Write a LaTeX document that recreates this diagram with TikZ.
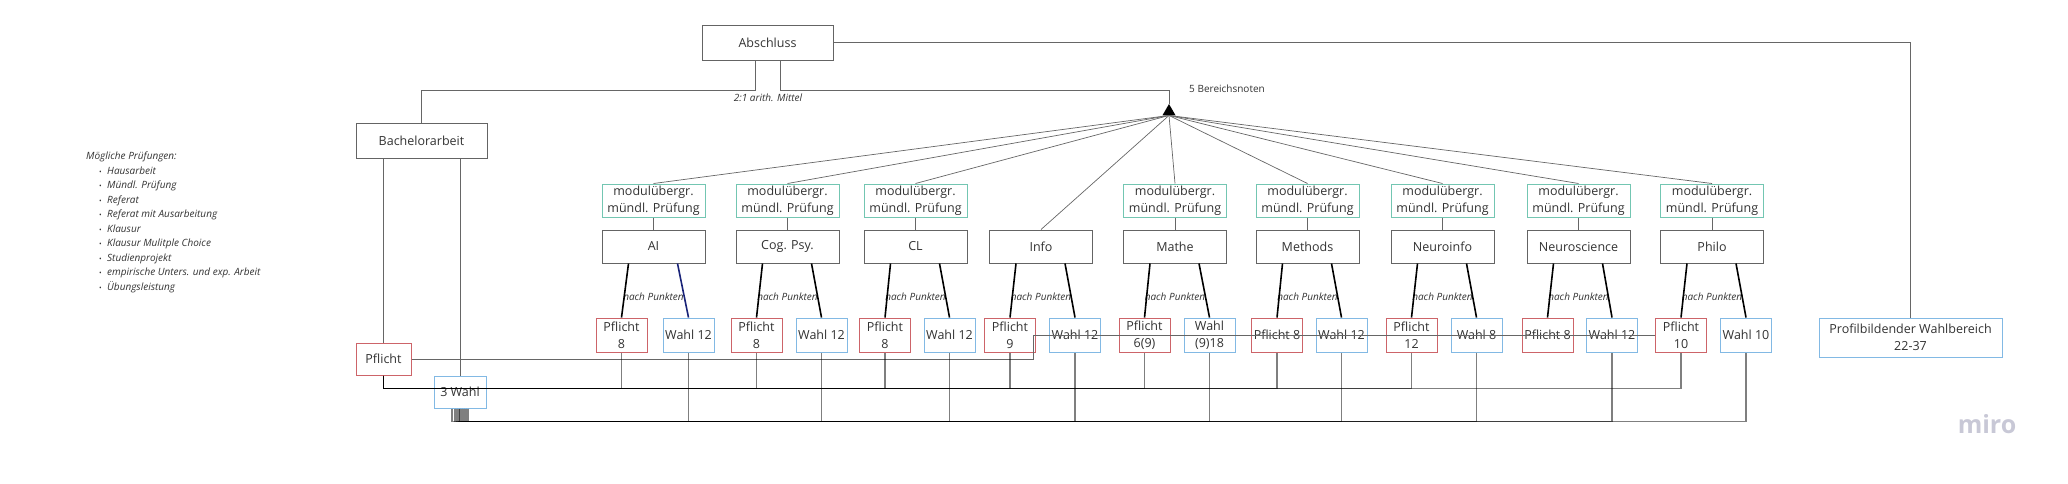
\documentclass[tikz,border=0pt]{standalone}
\usepackage{fontspec}
\setmainfont{Open Sans}
\usepackage{tikz}
\usetikzlibrary{shapes.geometric}
\definecolor{rahmen}{RGB}{100,100,100}
\definecolor{gruen}{RGB}{115,198,178}
\definecolor{rot}{RGB}{205,100,105}
\definecolor{blau}{RGB}{130,185,228}
\definecolor{navy}{RGB}{25,35,120}
\definecolor{schrift}{RGB}{50,50,50}
\definecolor{logo}{RGB}{200,200,214}
\tikzstyle{box} = [draw, line width=1pt, text=schrift, font={\fontsize{12.5}{16.7}\selectfont}, align=center, inner sep=1pt]
\tikzstyle{modul} = [box, draw=rahmen, minimum width=103pt, minimum height=33pt]
\tikzstyle{pruefung} = [box, draw=gruen, minimum width=103pt, minimum height=33pt]
\tikzstyle{pflicht} = [box, draw=rot, minimum width=51pt, minimum height=34pt]
\tikzstyle{wahl} = [box, draw=blau, minimum width=51pt, minimum height=34pt]
\tikzstyle{conn} = [draw=black!60, line width=0.7pt]
\tikzstyle{dick} = [draw=black, line width=1.6pt]
\tikzstyle{bus} = [draw=black, line width=1.3pt, draw opacity=0.5]
\tikzstyle{klein} = [text=schrift, font={\itshape\fontsize{10}{12}\selectfont}, inner sep=0pt]
\newcommand{\punkt}[1]{\hspace*{13pt}\makebox[8pt][l]{\upshape\fontsize{7}{7}\selectfont\textbullet}#1}

\begin{document}
\begin{tikzpicture}[x=1pt,y=-1pt]
        \useasboundingbox (0,0) rectangle (2068,483);
        % oben
        \node[modul, minimum width=131pt, minimum height=35pt] (ab) at (767.5,42.5) {Abschluss};
        \node[modul, minimum width=131pt, minimum height=35pt] (ba) at (421.5,140.5) {Bachelorarbeit};
        \node[regular polygon, regular polygon sides=3, fill=black, inner sep=0pt, minimum size=15pt] (dreieck) at (1169,111.5) {};
        \node[klein] (mittel) at (768,98) {2:1 arith. Mittel};
        \node[klein, font={\fontsize{10}{12}\selectfont}] (noten) at (1227,89) {5 Bereichsnoten};
        \node[klein, anchor=north west, align=left, font={\itshape\fontsize{10}{14.5}\selectfont}] (legende) at (86,152) {M\"ogliche Pr\"ufungen:\\\punkt{Hausarbeit}\\\punkt{M\"undl. Pr\"ufung}\\\punkt{Referat}\\\punkt{Referat mit Ausarbeitung}\\\punkt{Klausur}\\\punkt{Klausur Mulitple Choice}\\\punkt{Studienprojekt}\\\punkt{empirische Unters. und exp. Arbeit}\\\punkt{\"Ubungsleistung}};
        \node[wahl, minimum width=183pt, minimum height=39pt] (prof) at (1910.5,337.5) {Profilbildender Wahlbereich\\22-37};
        \node[pflicht, minimum width=55pt, minimum height=32pt] (pfl) at (383.5,359) {Pflicht};
        \node[wahl, minimum width=52pt, minimum height=32pt] (w3) at (460,392) {3 Wahl};
        % module
        \node[pruefung] (ai-g) at (653.5,200.5) {modul\"ubergr.\\m\"undl. Pr\"ufung};
        \node[modul] (ai) at (653.5,246.5) {AI};
        \node[pflicht] (ai-p) at (621.5,335) {Pflicht\\8};
        \node[wahl] (ai-w) at (688.5,335) {Wahl 12};
        \node[klein] (ai-n) at (653.5,297) {nach Punkten};
        \node[pruefung] (cog-g) at (787.5,200.5) {modul\"ubergr.\\m\"undl. Pr\"ufung};
        \node[modul] (cog) at (787.5,246.5) {Cog. Psy.};
        \node[pflicht] (cog-p) at (756.5,335) {Pflicht\\8};
        \node[wahl] (cog-w) at (821.5,335) {Wahl 12};
        \node[klein] (cog-n) at (787.5,297) {nach Punkten};
        \node[pruefung] (cl-g) at (915.5,200.5) {modul\"ubergr.\\m\"undl. Pr\"ufung};
        \node[modul] (cl) at (915.5,246.5) {CL};
        \node[pflicht] (cl-p) at (885,335) {Pflicht\\8};
        \node[wahl] (cl-w) at (949.5,335) {Wahl 12};
        \node[klein] (cl-n) at (915.5,297) {nach Punkten};
        \node[modul] (info) at (1041,246.5) {Info};
        \node[pflicht] (info-p) at (1010,335) {Pflicht\\9};
        \node[wahl] (info-w) at (1075,335) {Wahl 12};
        \node[klein] (info-n) at (1041,297) {nach Punkten};
        \node[pruefung] (ma-g) at (1175,200.5) {modul\"ubergr.\\m\"undl. Pr\"ufung};
        \node[modul] (ma) at (1175,246.5) {Mathe};
        \node[pflicht] (ma-p) at (1144.5,335) {Pflicht\\6(9)};
        \node[wahl] (ma-w) at (1209.5,335) {Wahl\\(9)18};
        \node[klein] (ma-n) at (1175,297) {nach Punkten};
        \node[pruefung] (me-g) at (1307.5,200.5) {modul\"ubergr.\\m\"undl. Pr\"ufung};
        \node[modul] (me) at (1307.5,246.5) {Methods};
        \node[pflicht] (me-p) at (1277,335) {Pflicht 8};
        \node[wahl] (me-w) at (1341.5,335) {Wahl 12};
        \node[klein] (me-n) at (1307.5,297) {nach Punkten};
        \node[pruefung] (ni-g) at (1442.5,200.5) {modul\"ubergr.\\m\"undl. Pr\"ufung};
        \node[modul] (ni) at (1442.5,246.5) {Neuroinfo};
        \node[pflicht] (ni-p) at (1411.5,335) {Pflicht\\12};
        \node[wahl] (ni-w) at (1476.5,335) {Wahl 8};
        \node[klein] (ni-n) at (1442.5,297) {nach Punkten};
        \node[pruefung] (ns-g) at (1578.5,200.5) {modul\"ubergr.\\m\"undl. Pr\"ufung};
        \node[modul] (ns) at (1578.5,246.5) {Neuroscience};
        \node[pflicht] (ns-p) at (1547.5,335) {Pflicht 8};
        \node[wahl] (ns-w) at (1612,335) {Wahl 12};
        \node[klein] (ns-n) at (1578.5,297) {nach Punkten};
        \node[pruefung] (ph-g) at (1712,200.5) {modul\"ubergr.\\m\"undl. Pr\"ufung};
        \node[modul] (ph) at (1712,246.5) {Philo};
        \node[pflicht] (ph-p) at (1681,335) {Pflicht\\10};
        \node[wahl] (ph-w) at (1746,335) {Wahl 10};
        \node[klein] (ph-n) at (1712,297) {nach Punkten};
        \node[font={\bfseries\fontsize{25}{25}\selectfont}, text=logo] (miro) at (1987,424) {miro};
        \coordinate (knick) at (1033,359);
        % verbindungen oben
        \draw[conn] ([xshift=-12.5pt]ab.south) -- ++(0,30) -| (ba.north);
        \draw[conn] ([xshift=12.5pt]ab.south) -- ++(0,30) -| (dreieck.north);
        \draw[conn] (ab.east) -| (prof.north);
        \draw[conn] (pfl.north) -- (pfl.north |- ba.south);
        \draw[conn] (w3.north) -- (w3.north |- ba.south);
        \draw[conn] (dreieck.south) -- (ai-g.north);
        \draw[conn] (dreieck.south) -- (cog-g.north);
        \draw[conn] (dreieck.south) -- (cl-g.north);
        \draw[conn] (dreieck.south) -- (info.north);
        \draw[conn] (dreieck.south) -- (ma-g.north);
        \draw[conn] (dreieck.south) -- (me-g.north);
        \draw[conn] (dreieck.south) -- (ni-g.north);
        \draw[conn] (dreieck.south) -- (ns-g.north);
        \draw[conn] (dreieck.south) -- (ph-g.north);
        % module zu pflicht/wahl
        \draw[conn] (ai-g) -- (ai);
        \draw[dick] ([xshift=-25pt]ai.south) -- (ai-p.north);
        \draw[dick, draw=navy] ([xshift=24pt]ai.south) -- (ai-w.north);
        \draw[conn] (cog-g) -- (cog);
        \draw[dick] ([xshift=-25pt]cog.south) -- (cog-p.north);
        \draw[dick] ([xshift=24pt]cog.south) -- (cog-w.north);
        \draw[conn] (cl-g) -- (cl);
        \draw[dick] ([xshift=-25pt]cl.south) -- (cl-p.north);
        \draw[dick] ([xshift=24pt]cl.south) -- (cl-w.north);
        \draw[dick] ([xshift=-25pt]info.south) -- (info-p.north);
        \draw[dick] ([xshift=24pt]info.south) -- (info-w.north);
        \draw[conn] (ma-g) -- (ma);
        \draw[dick] ([xshift=-25pt]ma.south) -- (ma-p.north);
        \draw[dick] ([xshift=24pt]ma.south) -- (ma-w.north);
        \draw[conn] (me-g) -- (me);
        \draw[dick] ([xshift=-25pt]me.south) -- (me-p.north);
        \draw[dick] ([xshift=24pt]me.south) -- (me-w.north);
        \draw[conn] (ni-g) -- (ni);
        \draw[dick] ([xshift=-25pt]ni.south) -- (ni-p.north);
        \draw[dick] ([xshift=24pt]ni.south) -- (ni-w.north);
        \draw[conn] (ns-g) -- (ns);
        \draw[dick] ([xshift=-25pt]ns.south) -- (ns-p.north);
        \draw[dick] ([xshift=24pt]ns.south) -- (ns-w.north);
        \draw[conn] (ph-g) -- (ph);
        \draw[dick] ([xshift=-25pt]ph.south) -- (ph-p.north);
        \draw[dick] ([xshift=24pt]ph.south) -- (ph-w.north);
        % pflicht unten
        \draw[conn] (pfl.east) -- (knick) |- (ph-p.west);
        \draw[bus] (pfl.south) -- ++(0,13) -| (ai-p.south);
        \draw[bus] (pfl.south) -- ++(0,13) -| (cog-p.south);
        \draw[bus] (pfl.south) -- ++(0,13) -| (cl-p.south);
        \draw[bus] (pfl.south) -- ++(0,13) -| (info-p.south);
        \draw[bus] (pfl.south) -- ++(0,13) -| (ma-p.south);
        \draw[bus] (pfl.south) -- ++(0,13) -| (me-p.south);
        \draw[bus] (pfl.south) -- ++(0,13) -| (ni-p.south);
        \draw[bus] (pfl.south) -- ++(0,13) -| (ph-p.south);
        % wahl unten
        \draw[bus] ([xshift=-8pt]w3.south) -- ++(0,13) -| (ai-w.south);
        \draw[bus] ([xshift=-5pt]w3.south) -- ++(0,13) -| (cog-w.south);
        \draw[bus] ([xshift=-3pt]w3.south) -- ++(0,13) -| (cl-w.south);
        \draw[bus] ([xshift=-1pt]w3.south) -- ++(0,13) -| (info-w.south);
        \draw[bus] (w3.south) -- ++(0,13) -| (ma-w.south);
        \draw[bus] ([xshift=2pt]w3.south) -- ++(0,13) -| (me-w.south);
        \draw[bus] ([xshift=4pt]w3.south) -- ++(0,13) -| (ni-w.south);
        \draw[bus] ([xshift=6pt]w3.south) -- ++(0,13) -| (ns-w.south);
        \draw[bus] ([xshift=8pt]w3.south) -- ++(0,13) -| (ph-w.south);
      \end{tikzpicture}
\end{document}
